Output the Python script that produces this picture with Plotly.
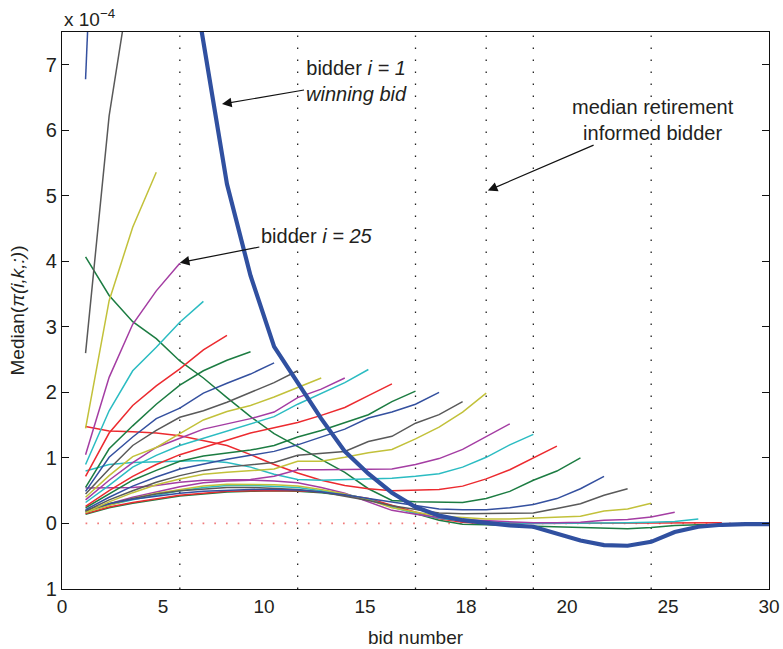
import plotly.graph_objects as go

# ---------------- data (values in units of 1e-4) ----------------
bid_numbers = list(range(1, 31))

winning_bid = [40.0, 28.0, 20.0, 14.0, 9.5, 7.35, 5.18, 3.78, 2.7, 2.15, 1.6, 1.1, 0.76, 0.47, 0.25,
               0.12, 0.05, 0.01, -0.03, -0.05, -0.16, -0.26, -0.33, -0.34, -0.28, -0.13, -0.05, -0.02, -0.01, -0.01]

curve_02 = [6.78, 15.3]
curve_03 = [2.6, 6.22, 8.5]
curve_04 = [1.45, 3.4, 4.52, 5.36]
curve_05 = [1.05, 2.23, 3.04, 3.55, 3.97]
curve_06 = [0.9, 1.72, 2.33, 2.69, 3.07, 3.39]
curve_07 = [0.72, 1.38, 1.8, 2.1, 2.36, 2.65, 2.87]
curve_08 = [0.55, 1.14, 1.49, 1.82, 2.11, 2.33, 2.49, 2.62]
curve_09 = [0.49, 1.01, 1.32, 1.6, 1.76, 1.99, 2.14, 2.28, 2.45]
curve_10 = [0.45, 0.83, 1.19, 1.42, 1.62, 1.72, 1.85, 2.0, 2.15, 2.33]
curve_11 = [0.4, 0.73, 1.02, 1.16, 1.37, 1.58, 1.71, 1.8, 1.93, 2.07, 2.22]
curve_12 = [0.36, 0.66, 0.93, 1.16, 1.3, 1.44, 1.52, 1.6, 1.7, 1.92, 2.05, 2.22]
curve_13 = [0.32, 0.58, 0.86, 1.04, 1.19, 1.3, 1.42, 1.52, 1.63, 1.82, 1.98, 2.15, 2.35]
curve_14 = [0.26, 0.5, 0.72, 0.9, 1.05, 1.16, 1.28, 1.38, 1.46, 1.54, 1.65, 1.77, 1.95, 2.13]
curve_15 = [0.24, 0.45, 0.66, 0.81, 0.95, 1.03, 1.07, 1.12, 1.19, 1.32, 1.42, 1.54, 1.66, 1.86, 2.02]
curve_16 = [0.21, 0.4, 0.57, 0.71, 0.83, 0.91, 0.98, 1.04, 1.1, 1.2, 1.32, 1.44, 1.61, 1.7, 1.82, 2.0]
curve_17 = [0.19, 0.36, 0.5, 0.63, 0.73, 0.81, 0.86, 0.9, 0.93, 1.04, 1.07, 1.1, 1.25, 1.33, 1.53, 1.66, 1.86]
curve_18 = [0.17, 0.33, 0.47, 0.59, 0.68, 0.75, 0.78, 0.8, 0.83, 0.95, 0.95, 1.01, 1.08, 1.13, 1.29, 1.47,
            1.7, 1.99]
curve_19 = [0.54, 0.54, 0.55, 0.58, 0.63, 0.66, 0.66, 0.67, 0.72, 0.82, 0.82, 0.82, 0.83, 0.83, 0.9, 0.99,
            1.13, 1.33, 1.52]
curve_20 = [0.8, 0.9, 0.93, 0.94, 0.95, 0.96, 0.93, 0.86, 0.75, 0.67, 0.66, 0.67, 0.69, 0.69, 0.72, 0.76,
            0.86, 1.01, 1.2, 1.36]
curve_21 = [1.48, 1.41, 1.4, 1.38, 1.34, 1.27, 1.19, 1.05, 0.9, 0.77, 0.66, 0.58, 0.53, 0.5, 0.51, 0.52,
            0.57, 0.68, 0.82, 1.0, 1.18]
curve_22 = [4.07, 3.48, 3.08, 2.82, 2.48, 2.22, 1.92, 1.63, 1.37, 1.17, 0.97, 0.78, 0.53, 0.35, 0.33, 0.32,
            0.32, 0.38, 0.49, 0.66, 0.8, 1.0]
curve_23 = [0.2, 0.3, 0.37, 0.42, 0.46, 0.49, 0.51, 0.52, 0.52, 0.51, 0.48, 0.44, 0.38, 0.33, 0.27, 0.22,
            0.21, 0.21, 0.24, 0.29, 0.38, 0.53, 0.72]
curve_24 = [0.19, 0.3, 0.38, 0.45, 0.5, 0.53, 0.55, 0.55, 0.54, 0.52, 0.48, 0.42, 0.35, 0.27, 0.21, 0.16,
            0.15, 0.15, 0.15, 0.16, 0.23, 0.3, 0.43, 0.53]
curve_25 = [0.17, 0.28, 0.38, 0.46, 0.52, 0.57, 0.6, 0.6, 0.59, 0.57, 0.52, 0.45, 0.36, 0.24, 0.17, 0.11,
            0.09, 0.07, 0.07, 0.08, 0.09, 0.11, 0.19, 0.22, 0.31]
curve_26 = [0.18, 0.3, 0.4, 0.48, 0.56, 0.62, 0.65, 0.66, 0.65, 0.62, 0.55, 0.46, 0.33, 0.2, 0.14, 0.09,
            0.06, 0.04, 0.02, 0.01, 0.01, 0.02, 0.05, 0.06, 0.1, 0.17]
curve_27 = [0.17, 0.28, 0.36, 0.43, 0.5, 0.55, 0.58, 0.58, 0.57, 0.55, 0.5, 0.45, 0.37, 0.25, 0.15, 0.08,
            0.04, 0.02, 0.01, 0.0, 0.0, 0.0, 0.01, 0.01, 0.02, 0.03, 0.07]
curve_28 = [0.15, 0.25, 0.32, 0.38, 0.43, 0.46, 0.49, 0.5, 0.5, 0.5, 0.48, 0.44, 0.38, 0.28, 0.17, 0.07,
            0.02, 0.0, 0.0, 0.0, 0.0, 0.0, 0.0, 0.0, 0.0, 0.0, 0.0, 0.01]
curve_29 = [0.14, 0.24, 0.31, 0.37, 0.42, 0.45, 0.48, 0.49, 0.5, 0.49, 0.47, 0.43, 0.37, 0.27, 0.15, 0.05,
            -0.01, -0.02, -0.03, -0.04, -0.05, -0.06, -0.07, -0.08, -0.06, -0.03, -0.02, -0.01, -0.01]

zero_reference = [0.0] * 30

grid_bids = [5, 10, 15, 18, 20, 25]
x_tick_labels = ["0", "5", "10", "15", "18", "20", "25", "30"]
y_tick_values = [-1, 0, 1, 2, 3, 4, 5, 6, 7]
y_tick_labels = ["1", "0", "1", "2", "3", "4", "5", "6", "7"]

# MATLAB-like colour order (printed tones)
color_order = ["#34509F", "#1C7C42", "#EC2A2F", "#2BBCC2", "#A43DA3", "#C2C13A", "#595959"]

thin_curves = [curve_02, curve_03, curve_04, curve_05, curve_06, curve_07, curve_08, curve_09, curve_10,
               curve_11, curve_12, curve_13, curve_14, curve_15, curve_16, curve_17, curve_18, curve_19,
               curve_20, curve_21, curve_22, curve_23, curve_24, curve_25, curve_26, curve_27, curve_28,
               curve_29]

FONT = "Liberation Sans, Arial, Helvetica, sans-serif"
TXT = "#231F20"

fig = go.Figure()

# red dotted zero reference
fig.add_trace(go.Scatter(x=bid_numbers, y=zero_reference, mode="lines",
                         line=dict(color="#F07A7A", width=1.7, dash="1.7px,10px"),
                         hoverinfo="skip", showlegend=False))

# thin curves, drawn from the longest to the shortest
for vals in reversed(thin_curves):
    n = len(vals)
    col = color_order[(30 - n) % 7]
    fig.add_trace(go.Scatter(x=bid_numbers[:n], y=vals, mode="lines",
                             line=dict(color=col, width=1.5),
                             hoverinfo="skip", showlegend=False))

# thick winning bid curve
fig.add_trace(go.Scatter(x=bid_numbers, y=winning_bid, mode="lines",
                         line=dict(color="#3050A0", width=4.2),
                         hoverinfo="skip", showlegend=False))

# dotted vertical grid at selected bid numbers
for g in grid_bids:
    fig.add_shape(type="line", xref="x", yref="y", x0=g, x1=g, y0=-1, y1=7.5,
                  line=dict(color="#222222", width=1.3, dash="1.5px,10.5px"), layer="below")

tick_positions = [k * 30 / 7 for k in range(len(x_tick_labels))]

fig.update_layout(
    width=783, height=649,
    margin=dict(l=62, r=14, t=32, b=60),
    paper_bgcolor="white", plot_bgcolor="white",
    font=dict(family=FONT, size=19, color=TXT),
    showlegend=False,
    xaxis=dict(range=[0, 30], tickvals=tick_positions, ticktext=x_tick_labels,
               ticks="", showgrid=False, zeroline=False, automargin=False,
               showline=True, linecolor="#111111", linewidth=1.3, mirror=True,
               tickfont=dict(size=19, color=TXT),
               title=dict(text="bid number", font=dict(size=19, color=TXT), standoff=14)),
    yaxis=dict(range=[-1, 7.5], tickvals=y_tick_values, ticktext=y_tick_labels,
               ticks="inside", ticklen=7, tickwidth=1.2, tickcolor="#111111",
               showgrid=False, zeroline=False, automargin=False,
               showline=True, linecolor="#111111", linewidth=1.3, mirror="ticks",
               tickfont=dict(size=20, color=TXT),
               title=dict(text="Median(<i>π(i,k,:)</i>)", font=dict(size=19, color=TXT), standoff=16)),
)

# exponent label
fig.add_annotation(xref="paper", yref="paper", x=0, y=1, xanchor="left", yanchor="bottom",
                   yshift=0, text="x 10<sup>−4</sup>", showarrow=False,
                   font=dict(size=19, color=TXT))

# labelled arrows: head in data coordinates, text centre offset in px
fig.add_annotation(xref="x", yref="y", x=6.79, y=6.40, ax=134, ay=-23,
                   text="bidder <i>i = 1</i><br><i>winning bid</i>",
                   showarrow=True, arrowhead=2, arrowsize=1.6, arrowwidth=1.2,
                   arrowcolor="#111111", font=dict(size=20, color=TXT))
fig.add_annotation(xref="x", yref="y", x=5.0, y=3.98, ax=137, ay=-27,
                   text="bidder <i>i = 25</i>",
                   showarrow=True, arrowhead=2, arrowsize=1.6, arrowwidth=1.2,
                   arrowcolor="#111111", font=dict(size=20, color=TXT))
fig.add_annotation(xref="x", yref="y", x=18.07, y=5.08, ax=165, ay=-71,
                   text="median retirement<br>informed bidder",
                   showarrow=True, arrowhead=2, arrowsize=1.6, arrowwidth=1.2,
                   arrowcolor="#111111", font=dict(size=20, color=TXT))

# remove the default page margin so the 783x649 figure fills the window exactly
fig.write_html("out.html",
               config={"displayModeBar": False},
               post_script="document.body.style.margin='0px';document.body.style.overflow='hidden';")
